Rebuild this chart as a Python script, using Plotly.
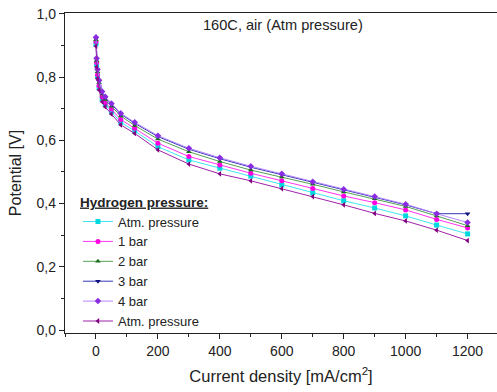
import plotly.graph_objects as go

current = [0, 2, 5, 10, 20, 30, 50, 80, 125, 200, 300, 400, 500, 600, 700, 800, 900, 1000, 1100, 1200]

atm1 = [0.905, 0.840, 0.802, 0.767, 0.731, 0.713, 0.691, 0.657, 0.630, 0.580, 0.538, 0.512, 0.487, 0.459, 0.434, 0.409, 0.386, 0.361, 0.332, 0.304]
bar1 = [0.912, 0.846, 0.808, 0.773, 0.738, 0.720, 0.699, 0.666, 0.638, 0.591, 0.549, 0.522, 0.496, 0.472, 0.448, 0.424, 0.403, 0.380, 0.350, 0.323]
bar2 = [0.918, 0.853, 0.817, 0.782, 0.747, 0.729, 0.708, 0.677, 0.647, 0.604, 0.564, 0.533, 0.506, 0.484, 0.461, 0.437, 0.415, 0.391, 0.361, 0.330]
bar3 = [0.922, 0.857, 0.822, 0.787, 0.752, 0.735, 0.714, 0.683, 0.654, 0.612, 0.572, 0.542, 0.515, 0.491, 0.466, 0.442, 0.420, 0.396, 0.368, 0.368]
bar4 = [0.926, 0.860, 0.825, 0.790, 0.755, 0.738, 0.717, 0.686, 0.657, 0.615, 0.575, 0.545, 0.518, 0.494, 0.469, 0.445, 0.422, 0.398, 0.368, 0.340]
atm2 = [0.898, 0.832, 0.795, 0.759, 0.722, 0.706, 0.683, 0.649, 0.622, 0.570, 0.525, 0.494, 0.472, 0.447, 0.422, 0.396, 0.369, 0.345, 0.316, 0.283]

names = ["Atm. pressure", "1 bar", "2 bar", "3 bar", "4 bar", "Atm. pressure"]
series = [atm1, bar1, bar2, bar3, bar4, atm2]
line_colors = ["#3fe6ee", "#ff33ee", "#55a055", "#3535b5", "#b585ff", "#a020a8"]
marker_colors = ["#00d8e0", "#ff00e0", "#1a6e1a", "#101080", "#8a2be2", "#800080"]
symbols = ["square", "circle", "triangle-up", "triangle-down", "diamond", "triangle-left"]

font = "Liberation Sans, Arial, sans-serif"

fig = go.Figure()
for name, ys, lc, mc, sym in zip(names, series, line_colors, marker_colors, symbols):
    fig.add_trace(go.Scatter(
        x=current, y=ys, name=name, mode="lines+markers",
        line=dict(color=lc, width=1),
        marker=dict(color=mc, size=5, symbol=sym),
    ))

axis_common = dict(
    showline=True, linecolor="#222", linewidth=1.3, mirror=True,
    ticks="outside", ticklen=5, tickwidth=1, tickcolor="#222",
    showgrid=False, zeroline=False,
    tickfont=dict(family=font, size=14, color="#222"),
)

fig.update_layout(
    width=497, height=392,
    margin=dict(l=65, r=0, t=13, b=59),
    plot_bgcolor="white", paper_bgcolor="white",
    separators=", ",
    font=dict(family=font, color="#222"),
    xaxis=dict(
        range=[-100, 1295], tickvals=[0, 200, 400, 600, 800, 1000, 1200],
        minor=dict(ticks="outside", ticklen=3, dtick=100, tick0=0, tickcolor="#222"),
        title=dict(text="Current density [mA/cm<sup>2</sup>]", font=dict(size=16.5, family=font), standoff=12),
        **axis_common,
    ),
    yaxis=dict(
        range=[-0.0095, 1.003], tickvals=[0, 0.2, 0.4, 0.6, 0.8, 1.0], tickformat=".1f",
        minor=dict(ticks="outside", ticklen=3, dtick=0.1, tick0=0, tickcolor="#222"),
        title=dict(text="Potential [V]", font=dict(size=16, family=font), standoff=10),
        **axis_common,
    ),
    legend=dict(
        x=0.03, y=0.45, xanchor="left", yanchor="top",
        bgcolor="rgba(0,0,0,0)",
        font=dict(family=font, size=13, color="#222"),
        title=dict(text="<b><u>Hydrogen pressure:</u></b>", font=dict(family=font, size=13.5)),
        tracegroupgap=0, itemwidth=30,
    ),
    annotations=[dict(
        text="160C, air (Atm pressure)", xref="paper", yref="paper",
        x=0.505, y=0.9625, xanchor="center", yanchor="middle", showarrow=False,
        font=dict(family=font, size=14.6, color="#222"),
    )],
)

fig.write_html("out.html")
